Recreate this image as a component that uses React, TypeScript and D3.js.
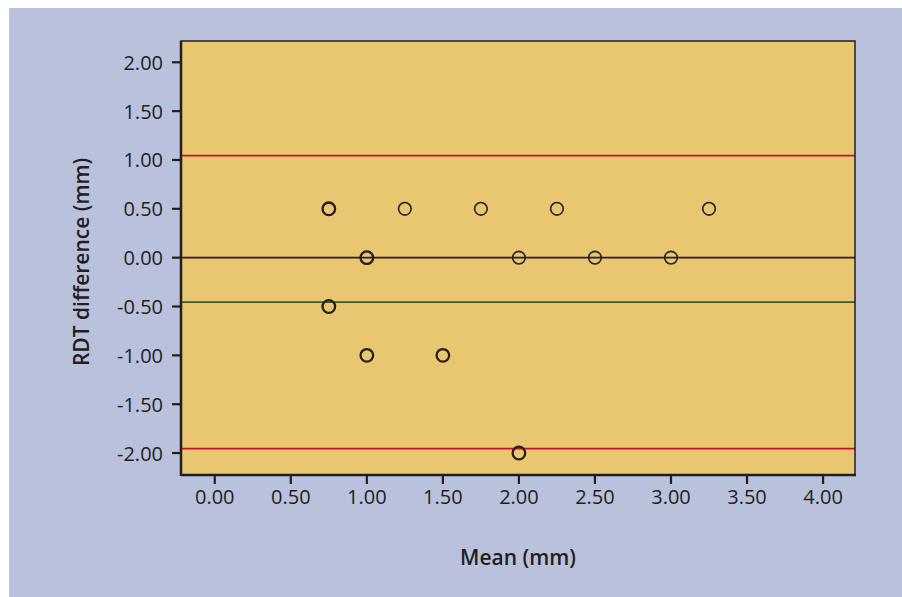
import React, { useEffect, useRef } from "react";
import * as d3 from "d3";

// Bland-Altman style data (mean vs difference), duplicates kept as repeated entries
const meanValues = [0.75, 0.75, 1.25, 1.75, 2.25, 3.25, 1.0, 1.0, 2.0, 2.5, 3.0, 0.75, 0.75, 1.0, 1.0, 1.5, 1.5, 2.0, 2.0];
const diffValues = [0.5, 0.5, 0.5, 0.5, 0.5, 0.5, 0, 0, 0, 0, 0, -0.5, -0.5, -1, -1, -1, -1, -2, -2];
const xTicks = [0, 0.5, 1, 1.5, 2, 2.5, 3, 3.5, 4];
const yTicks = [2, 1.5, 1, 0.5, 0, -0.5, -1, -1.5, -2];
const meanDiff = -0.455;
const upperLimit = 1.045;
const lowerLimit = -1.955;

const App = () => {
  const svgRef = useRef<SVGSVGElement>(null);

  useEffect(() => {
    const svg = d3.select(svgRef.current);
    svg.selectAll("*").remove();

    const width = 902;
    const height = 597;
    const plot = { left: 181, top: 41, right: 855, bottom: 475 };
    const font = "'Open Sans', sans-serif";
    const ink = "#231f20";

    svg.attr("width", width).attr("height", height);

    // Background panel
    svg.append("rect")
      .attr("x", 9).attr("y", 8)
      .attr("width", width - 9).attr("height", height - 8)
      .attr("fill", "#b9c1dc");

    const x = d3.scaleLinear().domain([-0.222, 4.21]).range([plot.left, plot.right]);
    const y = d3.scaleLinear().domain([-2.225, 2.218]).range([plot.bottom, plot.top]);

    // Plot area
    svg.append("rect")
      .attr("x", plot.left).attr("y", plot.top)
      .attr("width", plot.right - plot.left).attr("height", plot.bottom - plot.top)
      .attr("fill", "#e9c670");

    // Reference lines
    const refLines = [
      { v: upperLimit, c: "#c8102e" },
      { v: lowerLimit, c: "#c8102e" },
      { v: meanDiff, c: "#3f5a2c" },
      { v: 0, c: ink },
    ];
    svg.selectAll("line.ref")
      .data(refLines)
      .enter()
      .append("line")
      .attr("class", "ref")
      .attr("x1", plot.left).attr("x2", plot.right)
      .attr("y1", (d) => y(d.v)).attr("y2", (d) => y(d.v))
      .attr("stroke", (d) => d.c)
      .attr("stroke-width", 1.6);

    // Points, grouped so overlapping observations draw heavier
    const pts = meanValues.map((m, i) => ({ m, d: diffValues[i] }));
    const groups = d3.rollups(pts, (v) => v.length, (p) => `${p.m}|${p.d}`)
      .map(([k, n]) => {
        const [m, d] = k.split("|").map(Number);
        return { m, d, n };
      });
    svg.selectAll("circle.pt")
      .data(groups)
      .enter()
      .append("circle")
      .attr("class", "pt")
      .attr("cx", (d) => x(d.m))
      .attr("cy", (d) => y(d.d))
      .attr("r", 6.3)
      .attr("fill", "none")
      .attr("stroke", ink)
      .attr("stroke-width", (d) => (d.n > 1 ? 2.3 : 1.6));

    // Frame (left and bottom axis lines, plus top/right border)
    svg.append("rect")
      .attr("x", plot.left).attr("y", plot.top)
      .attr("width", plot.right - plot.left).attr("height", plot.bottom - plot.top)
      .attr("fill", "none")
      .attr("stroke", ink)
      .attr("stroke-width", 1.5);
    svg.append("line")
      .attr("x1", plot.left).attr("x2", plot.left)
      .attr("y1", plot.top).attr("y2", plot.bottom + 1)
      .attr("stroke", ink).attr("stroke-width", 2.5);
    svg.append("line")
      .attr("x1", plot.left).attr("x2", plot.right + 1)
      .attr("y1", plot.bottom).attr("y2", plot.bottom)
      .attr("stroke", ink).attr("stroke-width", 2.5);

    // X ticks
    const xg = svg.append("g");
    xg.selectAll("line")
      .data(xTicks)
      .enter()
      .append("line")
      .attr("x1", (d) => x(d)).attr("x2", (d) => x(d))
      .attr("y1", plot.bottom).attr("y2", plot.bottom + 9)
      .attr("stroke", ink).attr("stroke-width", 2.2);
    xg.selectAll("text")
      .data(xTicks)
      .enter()
      .append("text")
      .attr("x", (d) => x(d))
      .attr("y", 504)
      .attr("text-anchor", "middle")
      .attr("font-family", font)
      .attr("font-size", 20)
      .attr("fill", ink)
      .text((d) => d.toFixed(2));

    // Y ticks
    const yg = svg.append("g");
    yg.selectAll("line")
      .data(yTicks)
      .enter()
      .append("line")
      .attr("x1", plot.left - 9).attr("x2", plot.left)
      .attr("y1", (d) => y(d)).attr("y2", (d) => y(d))
      .attr("stroke", ink).attr("stroke-width", 2.2);
    yg.selectAll("text")
      .data(yTicks)
      .enter()
      .append("text")
      .attr("x", 163)
      .attr("y", (d) => y(d) + 7.5)
      .attr("text-anchor", "end")
      .attr("font-family", font)
      .attr("font-size", 20)
      .attr("fill", ink)
      .text((d) => d.toFixed(2));

    // Axis titles
    svg.append("text")
      .attr("x", (plot.left + plot.right) / 2)
      .attr("y", 565)
      .attr("text-anchor", "middle")
      .attr("font-family", font)
      .attr("font-size", 21)
      .attr("font-weight", 600)
      .attr("fill", ink)
      .text("Mean (mm)");
    svg.append("text")
      .attr("transform", `translate(89, ${(plot.top + plot.bottom) / 2 + 4}) rotate(-90)`)
      .attr("text-anchor", "middle")
      .attr("font-family", font)
      .attr("font-size", 21)
      .attr("font-weight", 600)
      .attr("fill", ink)
      .text("RDT difference (mm)");
  }, []);

  return (
    <div style={{ position: "absolute", left: 0, top: 0 }}>
      <svg ref={svgRef} style={{ display: "block" }}></svg>
    </div>
  );
};

export default App;
